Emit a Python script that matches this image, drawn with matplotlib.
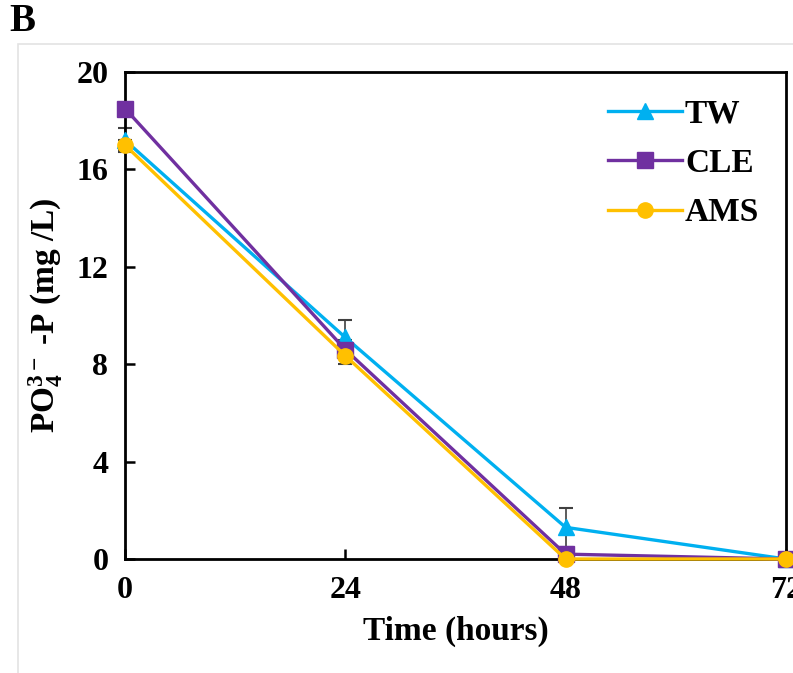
import matplotlib.pyplot as plt
from matplotlib.patches import Rectangle

# Data
time_h = [0, 24, 48, 72]
tw = [17.2, 9.1, 1.3, 0.0]
tw_err = [0.5, 0.7, 0.8, 0.0]
cle = [18.5, 8.6, 0.2, 0.0]
cle_err = [0.2, 0.4, 0.2, 0.0]
ams = [17.0, 8.35, 0.0, 0.0]
ams_err = [0.2, 0.35, 0.1, 0.0]
x_ticks = [0, 24, 48, 72]
y_ticks = [0, 4, 8, 12, 16, 20]

plt.rcParams['font.family'] = ['Liberation Serif', 'DejaVu Serif']
plt.rcParams['font.weight'] = 'bold'
plt.rcParams['mathtext.fontset'] = 'custom'
plt.rcParams['mathtext.rm'] = 'Liberation Serif:bold'
plt.rcParams['mathtext.it'] = 'Liberation Serif:bold'
plt.rcParams['mathtext.bf'] = 'Liberation Serif:bold'

fig = plt.figure(figsize=(7.93, 6.73), dpi=100)
ax = fig.add_axes([0.1576, 0.1694, 0.8334, 0.7236])

# light gray frame around the panel
fig.patches.append(Rectangle((0.023, -0.1), 1.2, 1.035, transform=fig.transFigure,
                             fill=False, edgecolor='#e3e3e3', linewidth=1.2))

series = [
    ('TW', tw, tw_err, '#00B0F0', '^'),
    ('CLE', cle, cle_err, '#7030A0', 's'),
    ('AMS', ams, ams_err, '#FFC000', 'o'),
]
for name, vals, err, color, marker in series:
    ax.errorbar(time_h, vals, yerr=err, fmt='none', ecolor='#404040',
                elinewidth=1.2, capsize=5, capthick=1.5, clip_on=False, zorder=2)
for name, vals, err, color, marker in series:
    ax.plot(time_h, vals, color=color, marker=marker, markersize=11,
            linewidth=2.4, label=name, clip_on=False, zorder=3)

ax.set_xlim(0, 72)
ax.set_ylim(0, 20)
ax.set_xticks(x_ticks)
ax.set_yticks(y_ticks)
ax.tick_params(direction='in', length=7, width=1.8, labelsize=23, pad=12)
for s in ax.spines.values():
    s.set_linewidth(2)

ax.set_xlabel('Time (hours)', fontsize=24, fontweight='bold', labelpad=8)
ax.set_ylabel(r'PO$_4^{3-}$ -P (mg /L)', fontsize=24, fontweight='bold', labelpad=8)

ax.legend(loc='upper right', frameon=False, fontsize=24, handlelength=2.2,
          handletextpad=0.1, labelspacing=0.55, borderaxespad=0.4)

fig.text(0.012, 0.995, 'B', fontsize=28, fontweight='bold', va='top', ha='left')

fig.savefig('out.png', dpi=100)
